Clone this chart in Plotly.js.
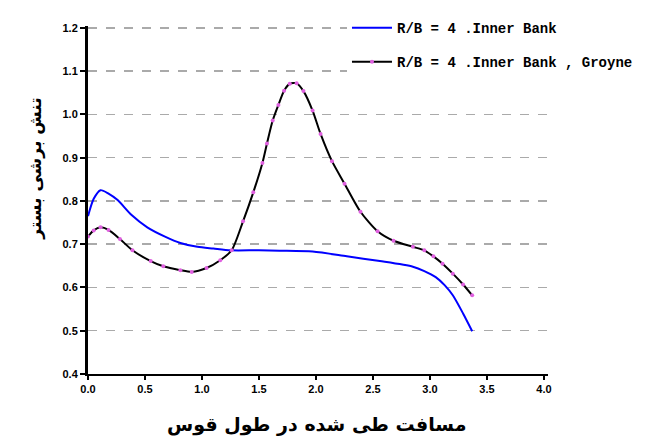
<!DOCTYPE html>
<html>
<head>
<meta charset="utf-8">
<script src="https://cdn.plot.ly/plotly-3.0.1.min.js"></script>
<style>html,body{margin:0;padding:0;background:#fff;}#chart{width:652px;height:445px;}</style>
</head>
<body>
<div id="chart"></div>
<script>
// Series 1: R/B = 4, Inner Bank
const innerX = [0, 0.05, 0.11, 0.18, 0.26, 0.38, 0.52, 0.68, 0.81, 0.96, 1.10, 1.25, 1.50, 1.68, 1.97, 2.27, 2.56, 2.85, 2.95, 3.05, 3.13, 3.20, 3.29, 3.37];
const innerY = [0.765, 0.805, 0.825, 0.817, 0.802, 0.768, 0.739, 0.717, 0.703, 0.694, 0.690, 0.686, 0.686, 0.685, 0.683, 0.672, 0.661, 0.648, 0.638, 0.624, 0.605, 0.582, 0.540, 0.499];
// Series 2: R/B = 4, Inner Bank, Groyne
const groyneX = [0, 0.05, 0.11, 0.18, 0.28, 0.39, 0.55, 0.66, 0.81, 0.91, 1.04, 1.16, 1.26, 1.36, 1.45, 1.53, 1.57, 1.62, 1.67, 1.72, 1.77, 1.83, 1.89, 1.97, 2.04, 2.14, 2.25, 2.39, 2.54, 2.68, 2.85, 2.95, 3.03, 3.11, 3.20, 3.29, 3.37];
const groyneY = [0.718, 0.732, 0.739, 0.733, 0.712, 0.686, 0.661, 0.649, 0.640, 0.636, 0.645, 0.663, 0.686, 0.753, 0.820, 0.888, 0.933, 0.986, 1.022, 1.055, 1.071, 1.072, 1.054, 1.009, 0.955, 0.892, 0.840, 0.775, 0.730, 0.708, 0.694, 0.686, 0.672, 0.655, 0.632, 0.607, 0.582];

const seriesNames = ["R/B = 4 .Inner Bank", "R/B = 4 .Inner Bank , Groyne"];
const xTitle = "مسافت طی شده در طول قوس";
const yTitle = "تنش برشی بستر";

const traces = [
  {x: innerX, y: innerY, name: seriesNames[0], type: "scatter", mode: "lines",
   line: {color: "#0000ff", width: 2, shape: "spline", smoothing: 0.7}, legend: "legend"},
  {x: groyneX, y: groyneY, name: seriesNames[1], type: "scatter", mode: "lines+markers",
   line: {color: "#000000", width: 2, shape: "spline", smoothing: 0.7},
   marker: {color: "#e060e0", size: 4}, legend: "legend2"}
];

const legFont = {family: "Liberation Mono, DejaVu Sans Mono, monospace", size: 14, color: "#000", weight: "bold"};
const layout = {
  width: 652, height: 445,
  margin: {l: 88, r: 104, t: 16, b: 71},
  paper_bgcolor: "#fff", plot_bgcolor: "#fff",
  showlegend: true,
  legend: {x: 0.563, y: 0.994, xanchor: "left", yanchor: "middle", bgcolor: "#fff", font: legFont, itemwidth: 40},
  legend2: {x: 0.563, y: 0.896, xanchor: "left", yanchor: "middle", bgcolor: "#fff", font: legFont, itemwidth: 40},
  xaxis: {
    range: [0, 4.035], dtick: 0.5, tick0: 0, tickformat: ".1f",
    showgrid: false, zeroline: false,
    showline: true, linecolor: "#000", linewidth: 2,
    ticks: "outside", ticklen: 4, tickwidth: 2, tickcolor: "#000",
    tickfont: {family: "Liberation Sans, Arial, sans-serif", size: 11, color: "#000", weight: "bold"}
  },
  yaxis: {
    range: [0.4, 1.2045], dtick: 0.1, tick0: 0.4, tickformat: ".1f",
    showgrid: true, gridcolor: "#aaaaaa", gridwidth: 1.5, griddash: "dash",
    zeroline: false,
    showline: true, linecolor: "#000", linewidth: 3,
    ticks: "outside", ticklen: 5, tickwidth: 2, tickcolor: "#000",
    tickfont: {family: "Liberation Sans, Arial, sans-serif", size: 11, color: "#000", weight: "bold"}
  },
  annotations: [
    {text: xTitle, xref: "paper", yref: "paper", x: 0.496, y: -0.145, xanchor: "center", yanchor: "middle",
     showarrow: false, font: {family: "DejaVu Sans, sans-serif", size: 19, color: "#000", weight: "bold"}},
    {text: yTitle, xref: "paper", yref: "paper", x: -0.113, y: 0.59, xanchor: "center", yanchor: "middle",
     textangle: -90, showarrow: false, font: {family: "DejaVu Sans, sans-serif", size: 17, color: "#000", weight: "bold"}}
  ]
};

Plotly.newPlot("chart", traces, layout, {displayModeBar: false, staticPlot: true});
</script>
</body>
</html>
